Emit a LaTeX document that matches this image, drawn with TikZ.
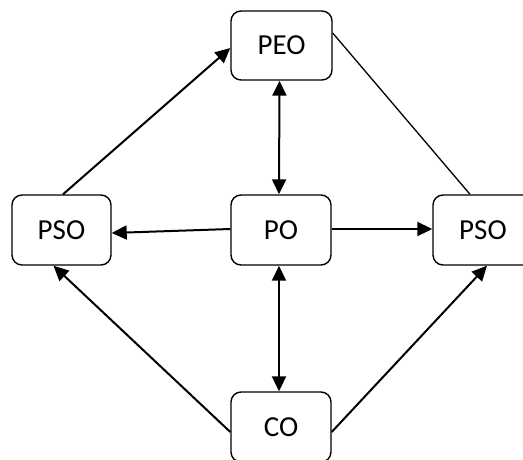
\documentclass[tikz,border=0pt]{standalone}
\usepackage{fontspec}
\setmainfont{Carlito}
\usetikzlibrary{arrows.meta}
\begin{document}
\begin{tikzpicture}[x=1pt,y=-1pt,
  box/.style={draw=black,line width=1.4pt,rounded corners=10pt,fill=white,
    minimum width=100pt,minimum height=70pt,inner sep=0pt,
    font=\fontsize{29}{34}\selectfont},
  conn/.style={line width=2pt,draw=black},
  tip/.style={-{Triangle[length=15pt,width=14pt]}},
  both/.style={{Triangle[length=15pt,width=14pt]}-{Triangle[length=15pt,width=14pt]}}]
\clip (0,0) rectangle (523,459);
\useasboundingbox (0,0) rectangle (523,459);
\node[box,minimum width=101pt,minimum height=69pt] (peo) at (281.5,45.5) {PEO};
\node[box,minimum width=99pt] (psol) at (61.5,230) {PSO};
\node[box] (po) at (281,230) {PO};
\node[box] (psor) at (483,230) {PSO};
\node[box] (co) at (281,427) {CO};
\draw[conn,tip] ([xshift=1.5pt]psol.north) -- ([yshift=-2.5pt]peo.west);
\draw[conn,line width=1.3pt] ([yshift=12.5pt]peo.east) -- ([xshift=-13pt]psor.north);
\draw[conn,both] ([xshift=-2pt]peo.south) -- ([xshift=-2pt]po.north);
\draw[conn,tip] ([yshift=1pt]po.west) -- ([yshift=-3pt]psol.east);
\draw[conn,tip] ([yshift=1pt]po.east) -- ([yshift=1pt]psor.west);
\draw[conn,both] ([xshift=-2pt]po.south) -- ([xshift=-2pt]co.north);
\draw[conn,tip] ([yshift=-5pt]co.west) -- ([xshift=-8pt]psol.south);
\draw[conn,tip] ([yshift=-5pt]co.east) -- ([xshift=4pt]psor.south);
\end{tikzpicture}
\end{document}
